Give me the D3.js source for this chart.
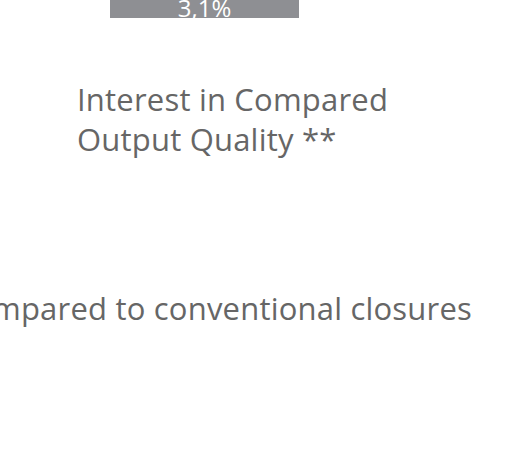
<!DOCTYPE html>
<html>
<head>
<meta charset="utf-8">
<script src="https://cdn.jsdelivr.net/npm/d3@7"></script>
<style>
  body { margin: 0; background: #fff; }
  svg { display: block; }
</style>
</head>
<body>
<script>
// values
const barLabels = ['3,1%'];
const barValues = [3.1];
const titleLines = ['Interest in Compared', 'Output Quality **'];
const footText = 'compared to conventional closures';

const width = 517, height = 463;
const font = '"Open Sans", sans-serif';
const svg = d3.select('body').append('svg')
	.attr('width', width)
	.attr('height', height);

// bar sits partly above the visible area
let x = d3.scaleLinear().domain([0, 3.1]).range([110, 299]);
let y = d3.scaleBand().domain(barLabels).range([-22, 18]);

svg.selectAll('rect.bar')
	.data(barValues)
	.enter().append('rect')
	.attr('class', 'bar')
	.attr('x', x(0))
	.attr('y', (d, i) => y(barLabels[i]))
	.attr('width', d => x(d) - x(0))
	.attr('height', y.bandwidth())
	.attr('fill', '#8e8f93');

svg.selectAll('text.val')
	.data(barValues)
	.enter().append('text')
	.attr('class', 'val')
	.attr('x', d => (x(0) + x(d)) / 2)
	.attr('y', 17)
	.attr('text-anchor', 'middle')
	.attr('fill', '#fff')
	.style('font-family', font)
	.style('font-size', '24px')
	.text((d, i) => barLabels[i]);

//title block
svg.append('g').selectAll('text')
	.data(titleLines)
	.enter().append('text')
	.attr('x', 77)
	.attr('y', (d, i) => 111 + i * 40)
	.attr('fill', '#666')
	.style('font-family', font)
	.style('font-size', '31px')
	.style('letter-spacing', '0.2px')
	.text(d => d);

svg.append('text')
	.attr('x', 472)
	.attr('y', 320)
	.attr('text-anchor', 'end')
	.attr('fill', '#666')
	.style('font-family', font)
	.style('font-size', '31px')
	.style('letter-spacing', '0.2px')
	.text(footText);
</script>
</body>
</html>
